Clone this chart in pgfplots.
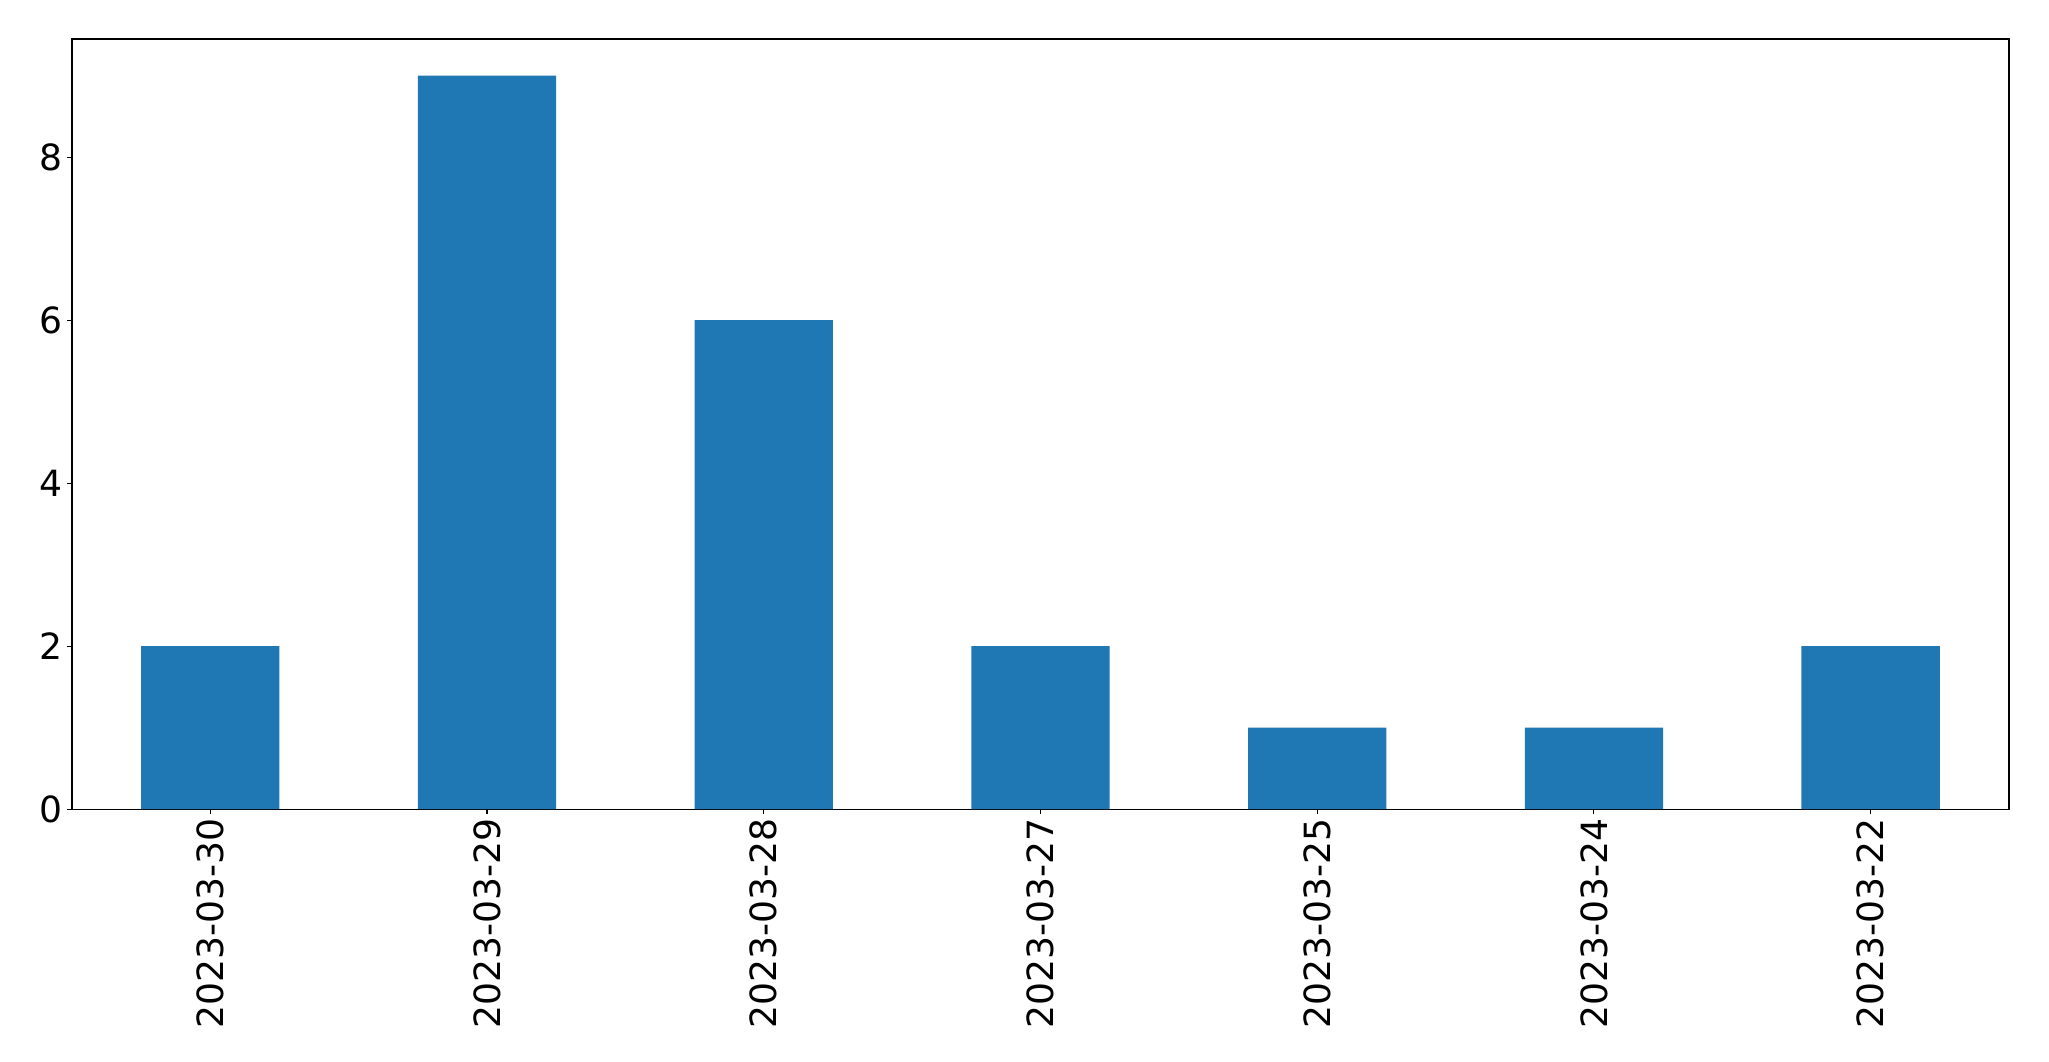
\documentclass[border=0pt]{standalone}
\usepackage{pgfplots}
\pgfplotsset{compat=1.18}
\usetikzlibrary{calc}
\usepackage{fontspec}
\setmainfont{DejaVu Sans}
\definecolor{mplblue}{HTML}{1F77B4}
\begin{document}
\begin{tikzpicture}
\begin{axis}[
  scale only axis,
  width=1394.6pt, height=554.4pt,
  xmin=-0.5, xmax=6.5, ymin=0, ymax=9.45,
  axis line style={line width=0.8pt},
  xtick={0,1,2,3,4,5,6},
  xticklabels={2023-03-30,2023-03-29,2023-03-28,2023-03-27,2023-03-25,2023-03-24,2023-03-22},
  ytick={0,2,4,6,8},
  tick align=outside,
  tick pos=left,
  major tick length=3.5pt,
  tick style={line width=0.8pt, black},
  /pgf/number format/assume math mode=true,
  ticklabel style={font=\fontsize{26}{31}\selectfont},
  xticklabel style={rotate=90, anchor=east, inner sep=0pt, outer sep=3.5pt},
  yticklabel style={inner sep=0pt, outer sep=3.5pt},
]
\addplot[ybar, bar width=0.5, fill=mplblue, draw=none, bar shift=0pt] coordinates {
(0,2) (1,9) (2,6) (3,2) (4,1) (5,1) (6,2)
};
\end{axis}
\pgfresetboundingbox
\path ($(current axis.south west)+(-51.8pt,-181.4pt)$) rectangle ($(current axis.north east)+(28.8pt,28.1pt)$);
\end{tikzpicture}
\end{document}
